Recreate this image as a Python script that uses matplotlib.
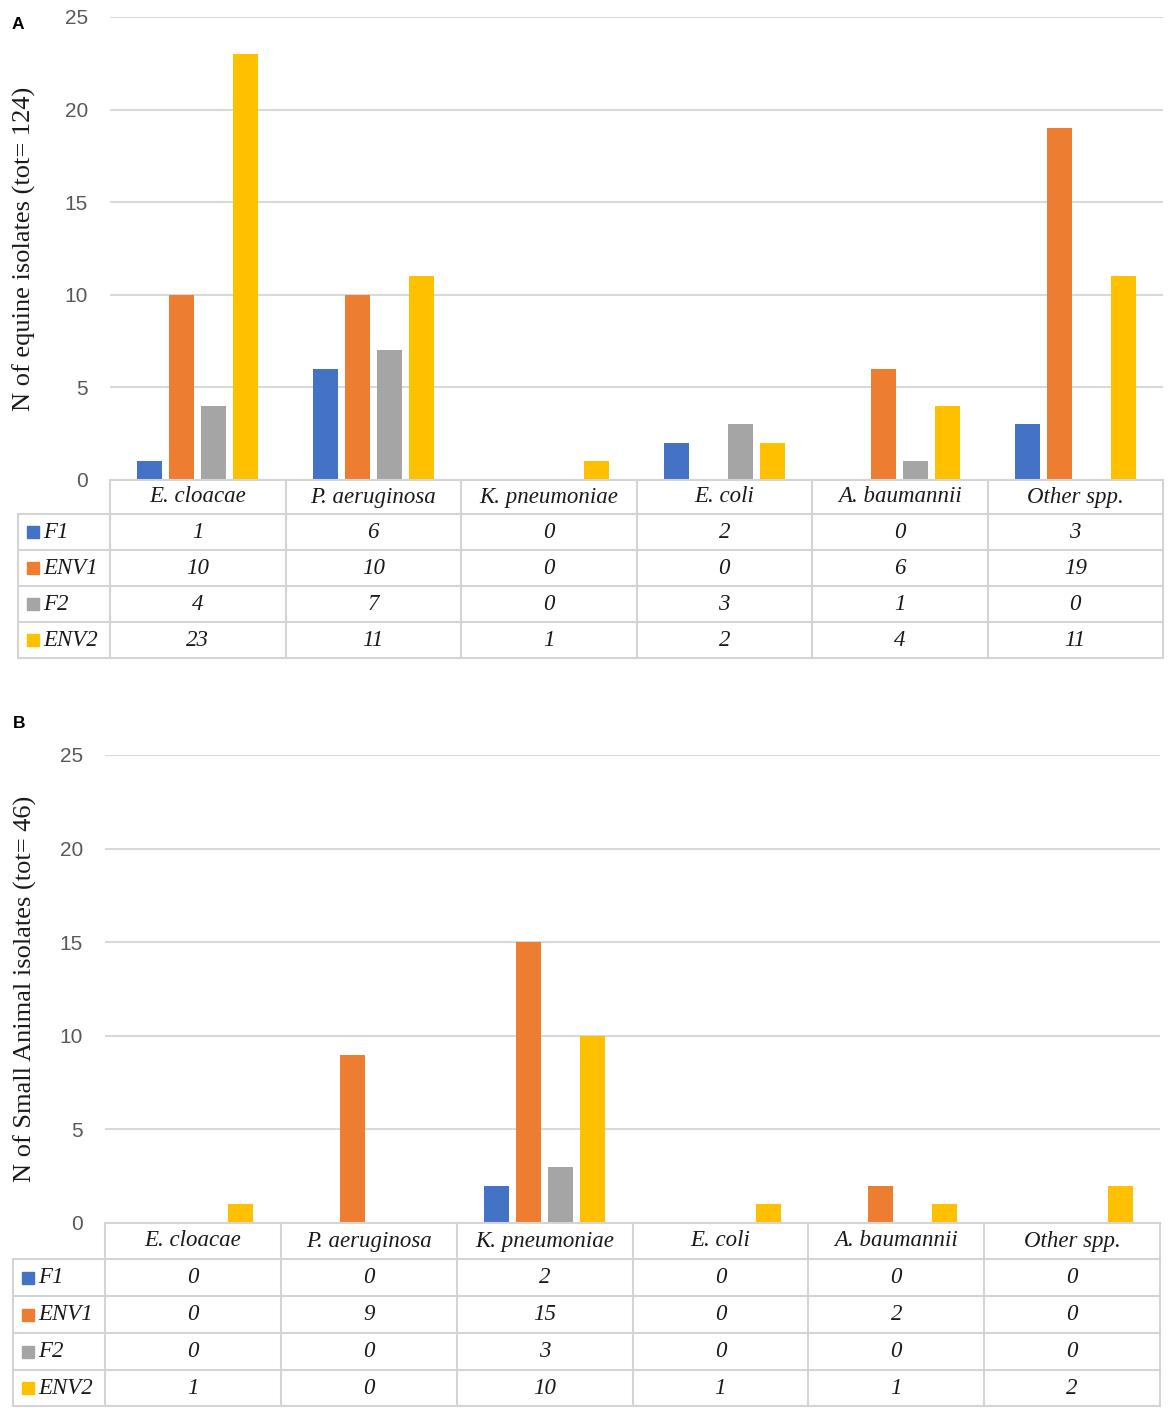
import numpy as np
import matplotlib.pyplot as plt

species = ['E. cloacae', 'P. aeruginosa', 'K. pneumoniae', 'E. coli', 'A. baumannii', 'Other spp.']
series = ['F1', 'ENV1', 'F2', 'ENV2']
colors = ['#4472C4', '#ED7D31', '#A5A5A5', '#FFC000']

# panel A - equine isolates
equine_f1 = [1, 6, 0, 2, 0, 3]
equine_env1 = [10, 10, 0, 0, 6, 19]
equine_f2 = [4, 7, 0, 3, 1, 0]
equine_env2 = [23, 11, 1, 2, 4, 11]

# panel B - small animal isolates
small_f1 = [0, 0, 2, 0, 0, 0]
small_env1 = [0, 9, 15, 0, 2, 0]
small_f2 = [0, 0, 3, 0, 0, 0]
small_env2 = [1, 0, 10, 1, 1, 2]

yticks = [0, 5, 10, 15, 20, 25]

W, H = 1170, 1418
fig = plt.figure(figsize=(W / 100, H / 100), dpi=100)

serif = 'Liberation Serif'
sans = 'Liberation Sans'
grid_c = '#D9D9D9'
tab_c = '#D4D4D4'
tab_fs = 16.5


def fx(px):
    return px / W


def fy(px):
    return 1 - px / H


def panel(data, ylabel, label_x, letter, letter_xy, plot_box, table_box, row_edges_px):
    left, right, top, bottom = plot_box
    ax = fig.add_axes([fx(left), fy(bottom), fx(right - left), (bottom - top) / H])
    x = np.arange(len(species)) + 0.5
    pitch, bw = 0.182, 0.143
    for k, vals in enumerate(data):
        ax.bar(x + (k - 1.5) * pitch, vals, width=bw, color=colors[k], zorder=3)
    ax.set_xlim(0, 6)
    ax.set_ylim(0, 25)
    ax.set_yticks(yticks)
    ax.set_xticks([])
    ax.grid(axis='y', color=grid_c, lw=1.5, zorder=0)
    for s in ax.spines.values():
        s.set_visible(False)
    ax.tick_params(axis='y', length=0, pad=16, labelsize=15, labelcolor='#595959')
    for lab in ax.get_yticklabels():
        lab.set_fontfamily(sans)
    ax.set_ylabel(ylabel, fontfamily=serif, fontsize=19, color='#1a1a1a')
    ax.yaxis.set_label_coords(-(left - label_x) / (right - left), 0.5)

    fig.text(fx(letter_xy[0]), fy(letter_xy[1]), letter, fontsize=12.5, fontweight='bold',
             fontfamily=sans, va='top', ha='left')

    # data table under the bars
    tl, tr = table_box
    unit = (right - left) / 6
    lab_w = (left - tl) / unit
    ttop, tbot = row_edges_px[0], row_edges_px[-1]
    tax = fig.add_axes([fx(tl), fy(tbot), fx(tr - tl), (tbot - ttop) / H])
    tax.set_xlim(-lab_w, 6)
    tax.set_ylim(tbot, ttop)
    tax.axis('off')
    edges = row_edges_px
    tax.plot([0, 6], [edges[0], edges[0]], color=tab_c, lw=1.5, clip_on=False)
    for e in edges[1:]:
        tax.plot([-lab_w, 6], [e, e], color=tab_c, lw=1.5, clip_on=False)
    tax.plot([-lab_w, -lab_w], [edges[1], edges[-1]], color=tab_c, lw=1.5, clip_on=False)
    for c in range(7):
        tax.plot([c, c], [edges[0], edges[-1]], color=tab_c, lw=1.5, clip_on=False)
    hy = (edges[0] + edges[1]) / 2
    for c, name in enumerate(species):
        tax.text(c + 0.5, hy, name, ha='center', va='center', fontfamily=serif,
                 style='italic', fontsize=tab_fs, color='#1a1a1a')
    for r, (name, vals) in enumerate(zip(series, data)):
        cy = (edges[r + 1] + edges[r + 2]) / 2
        sq = 12 / unit
        tax.add_patch(plt.Rectangle((-lab_w + 9 / unit, cy - 6), sq, 12, color=colors[r],
                                    clip_on=False))
        tax.text(-lab_w + 25 / unit, cy, name, ha='left', va='center', fontfamily=serif,
                 style='italic', fontsize=tab_fs, color='#1a1a1a')
        for c, v in enumerate(vals):
            tax.text(c + 0.5, cy, str(v), ha='center', va='center', fontfamily=serif,
                     style='italic', fontsize=tab_fs, color='#1a1a1a')


panel([equine_f1, equine_env1, equine_f2, equine_env2],
      'N of equine isolates (tot= 124)', 36, 'A', (12, 17),
      (110, 1163, 17, 480), (18, 1163), [480, 514, 550, 586, 622, 658])

panel([small_f1, small_env1, small_f2, small_env2],
      'N of Small Animal isolates (tot= 46)', 37, 'B', (13, 716),
      (105, 1160, 755, 1223), (13, 1160), [1223, 1259, 1296, 1333, 1370, 1406])

fig.savefig('out.png', dpi=100)
